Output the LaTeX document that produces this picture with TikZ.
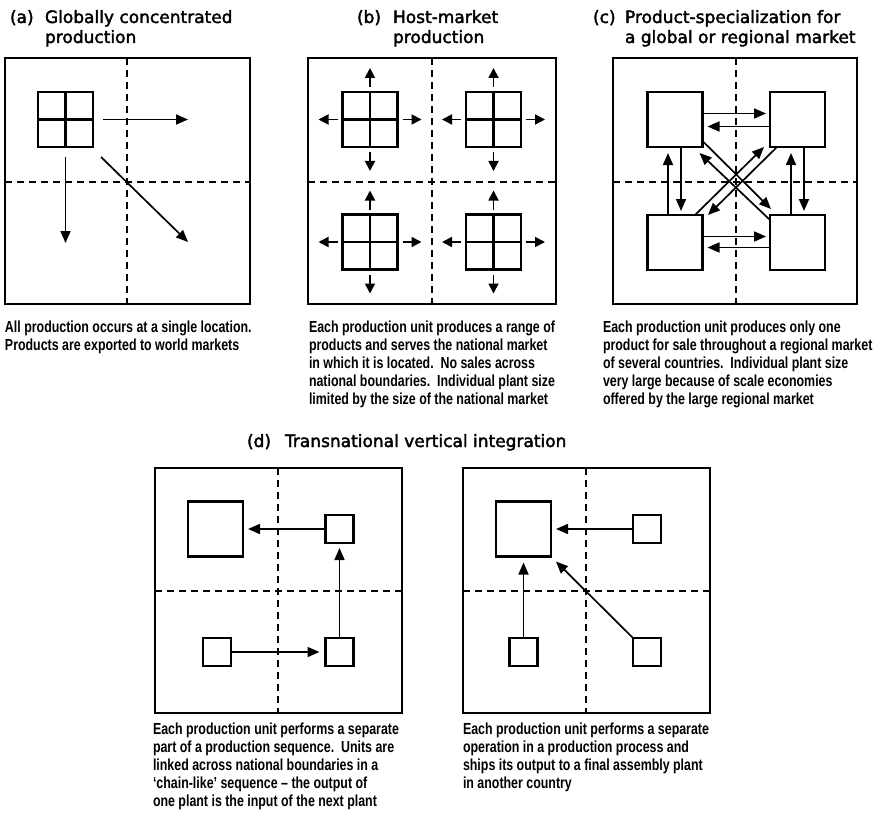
\documentclass[tikz,border=0pt]{standalone}
\usepackage{fontspec}
\usetikzlibrary{arrows.meta,calc}
\newfontfamily\titlefont[FakeBold=2.2]{DejaVu Sans}
\newfontfamily\capfont[FakeStretch=0.775]{Liberation Sans}
\begin{document}
\begin{tikzpicture}[x=1pt,y=-1pt,
  frame/.style={draw,line width=1.5pt},
  divider/.style={line width=1.1pt,dash pattern=on 7pt off 5pt},
  bigbox/.style={draw,line width=2.6pt,minimum size=55pt,inner sep=0pt,outer sep=0pt},
  smallbox/.style={draw,line width=2.3pt,minimum size=28pt,inner sep=0pt,outer sep=0pt},
  gridbox/.style={bigbox,path picture={\draw[line width=2.6pt] (path picture bounding box.north)--(path picture bounding box.south) (path picture bounding box.west)--(path picture bounding box.east);}},
  flow/.style={line width=1.7pt,-{Triangle[length=12pt,width=10pt]}},
  stub/.style={line width=1.8pt,-{Triangle[length=10pt,width=10pt]}},
  title/.style={font=\titlefont\fontsize{17}{20}\selectfont,inner sep=0pt,outer sep=0pt,align=left,anchor=north west},
  label/.style={font=\titlefont\fontsize{17}{20}\selectfont,inner sep=0pt,outer sep=0pt,anchor=base west},
  caption/.style={font=\capfont\bfseries\fontsize{16}{18}\selectfont,inner sep=0pt,outer sep=0pt,align=left,anchor=north west},
]
\useasboundingbox (0,0) rectangle (874,813);

% ---------------- (a) ----------------
\node[label] (la) at (10,23) {(a)};
\node[title] (ta) at (45,9) {\rule{0pt}{14pt}Globally concentrated\\production};
\draw[frame] (5,58) rectangle (250,304);
\draw[divider] (127,58) -- (127,304);
\draw[divider] (5,182) -- (250,182);
\node[gridbox] (a1) at (65.5,119.5) {};
\coordinate (a-e) at (188,119.5);
\coordinate (a-s) at (65.5,243);
\coordinate (a-se) at (188,242);
\draw[flow] ([xshift=10pt]a1.east) -- (a-e);
\draw[flow] ([yshift=-10pt]a1.south) -- (a-s);
\draw[flow] ([xshift=8pt,yshift=-10pt]a1.south east) -- (a-se);
\node[caption] (ca) at (5,319) {\rule{0pt}{13pt}All production occurs at a single location.\\Products are exported to world markets};

% ---------------- (b) ----------------
\node[label] (lb) at (357,23) {(b)};
\node[title] (tb) at (393,9) {\rule{0pt}{14pt}Host-market\\production};
\draw[frame] (308,58) rectangle (556,304);
\draw[divider] (432,58) -- (432,304);
\draw[divider] (308,182) -- (556,182);
\foreach \n/\cx/\cy in {b1/370/119.5, b2/493.5/119.5, b3/370/242, b4/493.5/242} {
  \node[gridbox] (\n) at (\cx,\cy) {};
  \path ([yshift=24pt]\n.north) coordinate (\n-up)
        ([yshift=-24pt]\n.south) coordinate (\n-dn)
        ([xshift=-24pt]\n.west) coordinate (\n-lf)
        ([xshift=24pt]\n.east) coordinate (\n-rt);
  \draw[stub] ([yshift=5pt]\n.north) -- (\n-up);
  \draw[stub] ([yshift=-5pt]\n.south) -- (\n-dn);
  \draw[stub] ([xshift=-5pt]\n.west) -- (\n-lf);
  \draw[stub] ([xshift=5pt]\n.east) -- (\n-rt);
}
\node[caption] (cb) at (309,319) {\rule{0pt}{13pt}Each production unit produces a range of\\products and serves the national market\\in which it is located.\ \ No sales across\\national boundaries.\ \ Individual plant size\\limited by the size of the national market};

% ---------------- (c) ----------------
\node[label] (lc) at (593,23) {(c)};
\node[title] (tc) at (625,9) {\rule{0pt}{14pt}Product-specialization for\\a global or regional market};
\draw[frame] (613,58) rectangle (857,304);
\draw[divider] (736,58) -- (736,304);
\draw[divider] (613,182) -- (857,182);
\node[bigbox] (c1) at (675,119.5) {};
\node[bigbox] (c2) at (797.5,119.5) {};
\node[bigbox] (c3) at (675,242.5) {};
\node[bigbox] (c4) at (797.5,242.5) {};
% horizontal pairs
\draw[flow] ([yshift=6pt]c1.east) -- ([xshift=-4pt,yshift=6pt]c2.west);
\draw[flow] ([yshift=-7pt]c2.west) -- ([xshift=5pt,yshift=-7pt]c1.east);
\draw[flow] ([yshift=6pt]c3.east) -- ([xshift=-4pt,yshift=6pt]c4.west);
\draw[flow] ([yshift=-5pt]c4.west) -- ([xshift=5pt,yshift=-5pt]c3.east);
% vertical pairs
\draw[flow] ([xshift=-7pt]c3.north) -- ([xshift=-7pt,yshift=-6pt]c1.south);
\draw[flow] ([xshift=6pt]c1.south) -- ([xshift=6pt,yshift=4pt]c3.north);
\draw[flow] ([xshift=-6.5pt]c4.north) -- ([xshift=-6.5pt,yshift=-6pt]c2.south);
\draw[flow] ([xshift=6.5pt]c2.south) -- ([xshift=6.5pt,yshift=4pt]c4.north);
% diagonal pairs
\draw[flow] ([yshift=6pt]c1.south east) -- ([xshift=1pt,yshift=6pt]c4.north west);
\draw[flow] ([yshift=-5pt]c4.north west) -- ([xshift=-3pt,yshift=-6pt]c1.south east);
\draw[flow] ([xshift=-7.5pt]c3.north east) -- ([xshift=-6pt]c2.south west);
\draw[flow] ([xshift=7pt]c2.south west) -- ([xshift=5.5pt]c3.north east);
\node[caption] (cc) at (603,319) {\rule{0pt}{13pt}Each production unit produces only one\\product for sale throughout a regional market\\of several countries.\ \ Individual plant size\\very large because of scale economies\\offered by the large regional market};

% ---------------- (d) ----------------
\node[label] (ld) at (247,447) {(d)};
\node[label] (td) at (285,447) {Transnational vertical integration};

% left
\draw[frame] (155,468) rectangle (402,713);
\draw[divider] (278,468) -- (278,713);
\draw[divider] (155,591) -- (402,591);
\node[bigbox] (dl1) at (215.5,529) {};
\node[smallbox] (dl2) at (339.5,529) {};
\node[smallbox] (dl3) at (339.5,652) {};
\node[smallbox] (dl4) at (217,652) {};
\draw[flow] (dl2.west) -- ([xshift=5pt]dl1.east);
\draw[flow] (dl3.north) -- ([yshift=-5pt]dl2.south);
\draw[flow] (dl4.east) -- ([xshift=-6pt]dl3.west);
\node[caption] (cdl) at (153,721) {\rule{0pt}{13pt}Each production unit performs a separate\\part of a production sequence.\ \ Units are\\linked across national boundaries in a\\‘chain-like’ sequence – the output of\\one plant is the input of the next plant};

% right
\draw[frame] (463,468) rectangle (710,713);
\draw[divider] (586,468) -- (586,713);
\draw[divider] (463,591) -- (710,591);
\node[bigbox] (dr1) at (523.5,529) {};
\node[smallbox] (dr2) at (647,529) {};
\node[smallbox] (dr3) at (523.5,652) {};
\node[smallbox] (dr4) at (647,652) {};
\draw[flow] (dr2.west) -- ([xshift=5pt]dr1.east);
\draw[flow] (dr3.north) -- ([yshift=-6pt]dr1.south);
\draw[flow] (dr4.north west) -- ([xshift=5pt,yshift=-5pt]dr1.south east);
\node[caption] (cdr) at (463,721) {\rule{0pt}{13pt}Each production unit performs a separate\\operation in a production process and\\ships its output to a final assembly plant\\in another country};
\end{tikzpicture}
\end{document}
